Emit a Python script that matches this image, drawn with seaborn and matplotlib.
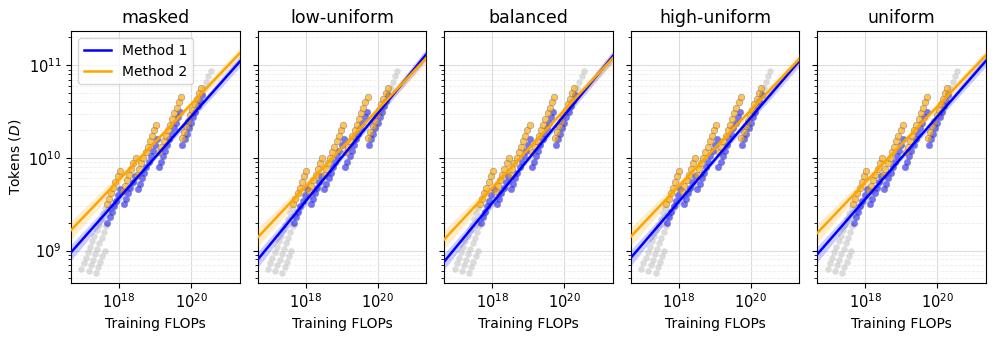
import numpy as np
import pandas as pd
import matplotlib
matplotlib.use("Agg")
import matplotlib.pyplot as plt
import seaborn as sns
from matplotlib.ticker import LogLocator, NullLocator, NullFormatter

# ---------------- data (log10 values) ----------------
panels = ["masked", "low-uniform", "balanced", "high-uniform", "uniform"]

# Method 1 (blue) training runs: log10 FLOPs / log10 tokens, one list per streak
m1_logC = [
    [17.68, 17.74, 17.80, 17.86, 17.92, 17.98, 18.04],
    [18.14, 18.20, 18.26, 18.32, 18.38, 18.44],
    [18.52, 18.58, 18.64, 18.70, 18.76, 18.82, 18.88, 18.94, 19.00, 19.06],
    [19.10, 19.16, 19.22, 19.28, 19.34, 19.40, 19.46, 19.52, 19.58, 19.64, 19.70],
    [19.76, 19.82, 19.88, 19.94, 20.00, 20.06, 20.12, 20.18, 20.24, 20.30],
]
m1_logD = [
    [9.30, 9.36, 9.42, 9.48, 9.54, 9.60, 9.66],
    [9.50, 9.56, 9.62, 9.68, 9.74, 9.80],
    [9.66, 9.72, 9.78, 9.84, 9.90, 9.96, 10.02, 10.08, 10.14, 10.20],
    [9.90, 9.96, 10.02, 10.08, 10.14, 10.20, 10.26, 10.32, 10.38, 10.44, 10.50],
    [10.14, 10.20, 10.26, 10.32, 10.38, 10.44, 10.50, 10.56, 10.62, 10.68],
]

# Method 2 (orange) training runs
m2_logC = [
    [17.66, 17.72, 17.78, 17.84, 17.90, 17.96, 18.02],
    [18.10, 18.16, 18.22, 18.28, 18.34, 18.40, 18.46],
    [18.50, 18.56, 18.62, 18.68, 18.74, 18.80, 18.86, 18.92, 18.98, 19.04],
    [19.12, 19.18, 19.24, 19.30, 19.36, 19.42, 19.48, 19.54, 19.60, 19.66, 19.72],
    [19.74, 19.80, 19.86, 19.92, 19.98, 20.04, 20.10, 20.16, 20.22, 20.28],
]
m2_logD = [
    [9.50, 9.56, 9.62, 9.68, 9.74, 9.80, 9.86],
    [9.64, 9.70, 9.76, 9.82, 9.88, 9.94, 10.00],
    [9.82, 9.88, 9.94, 10.00, 10.06, 10.12, 10.18, 10.24, 10.30, 10.36],
    [10.06, 10.12, 10.18, 10.24, 10.30, 10.36, 10.42, 10.48, 10.54, 10.60, 10.66],
    [10.22, 10.28, 10.34, 10.40, 10.46, 10.52, 10.58, 10.64, 10.70, 10.76],
]

# excluded runs (grey)
ex_logC = [
    [16.96, 17.02, 17.08, 17.14, 17.20, 17.26, 17.32, 17.38, 17.44, 17.50, 17.56, 17.62],
    [17.16, 17.22, 17.28, 17.34, 17.40, 17.46, 17.52, 17.58, 17.64],
    [17.36, 17.42, 17.48, 17.54, 17.60],
    [20.30, 20.36, 20.42, 20.48, 20.54],
]
ex_logD = [
    [8.80, 8.86, 8.92, 8.98, 9.04, 9.10, 9.16, 9.22, 9.28, 9.34, 9.40, 9.46],
    [8.78, 8.84, 8.90, 8.96, 9.02, 9.08, 9.14, 9.20, 9.26],
    [8.76, 8.82, 8.88, 8.94, 9.00],
    [10.70, 10.76, 10.82, 10.88, 10.94],
]

# fitted lines: log10 tokens at left / right edge of the FLOP range
fit_logC_ends = [16.67, 21.35]
m1_fit = {"masked": [8.98, 11.04], "low-uniform": [8.90, 11.12], "balanced": [8.88, 11.10],
          "high-uniform": [8.92, 11.05], "uniform": [8.96, 11.05]}
m2_fit = {"masked": [9.22, 11.13], "low-uniform": [9.14, 11.08], "balanced": [9.12, 11.08],
          "high-uniform": [9.15, 11.07], "uniform": [9.19, 11.11]}
# confidence band half-width (decades) at left / centre / right
band_logC = [16.67, 18.9, 21.35]
m1_band = [0.085, 0.025, 0.06]
m2_band = [0.10, 0.025, 0.06]

# ---------------- build tables ----------------
def to_df(cs, ds):
    c = np.concatenate([np.array(v) for v in cs])
    d = np.concatenate([np.array(v) for v in ds])
    return pd.DataFrame({"C": 10.0 ** c, "D": 10.0 ** d})

df1 = to_df(m1_logC, m1_logD)
df2 = to_df(m2_logC, m2_logD)
dfx = to_df(ex_logC, ex_logD)

BLUE = "#0000ff"
ORANGE = "#ffa500"

fig, axes = plt.subplots(1, 5, figsize=(9.96, 3.38), dpi=100, sharey=True)
fig.subplots_adjust(left=0.0713, right=0.990, bottom=0.163, top=0.908, wspace=0.106)

for ax, name in zip(axes, panels):
    ax.set_xscale("log")
    ax.set_yscale("log")
    sns.scatterplot(data=dfx, x="C", y="D", ax=ax, color="#c4c4c4", alpha=0.6,
                    s=22, linewidth=0, zorder=2)
    sns.scatterplot(data=df1, x="C", y="D", ax=ax, color=BLUE, alpha=0.55,
                    s=22, edgecolor="#777777", linewidth=0.5, zorder=3)
    sns.scatterplot(data=df2, x="C", y="D", ax=ax, color=ORANGE, alpha=0.65,
                    s=22, edgecolor="#777777", linewidth=0.5, zorder=4)

    for fit, band, col, lab in [(m1_fit[name], m1_band, BLUE, "Method 1"),
                                (m2_fit[name], m2_band, ORANGE, "Method 2")]:
        xs = np.array(fit_logC_ends)
        ys = np.array(fit)
        slope = (ys[1] - ys[0]) / (xs[1] - xs[0])
        bx = np.array(band_logC)
        by = ys[0] + slope * (bx - xs[0])
        hb = np.array(band)
        ax.fill_between(10.0 ** bx, 10.0 ** (by - hb), 10.0 ** (by + hb),
                        color=col, alpha=0.2, linewidth=0, zorder=5)
        line_df = pd.DataFrame({"C": 10.0 ** xs, "D": 10.0 ** ys})
        sns.lineplot(data=line_df, x="C", y="D", ax=ax, color=col, linewidth=1.8,
                     label=lab if name == "masked" else None, zorder=6)

    ax.set_xlim(10 ** 16.67, 10 ** 21.35)
    ax.set_ylim(10 ** 8.65, 10 ** 11.37)
    ax.xaxis.set_major_locator(LogLocator(base=100.0))
    ax.xaxis.set_minor_locator(NullLocator())
    ax.yaxis.set_major_locator(LogLocator(base=10.0))
    ax.yaxis.set_minor_locator(LogLocator(base=10.0, subs=np.arange(2, 10)))
    ax.yaxis.set_minor_formatter(NullFormatter())
    ax.grid(True, which="major", color="#dcdcdc", linewidth=0.8, zorder=0)
    ax.grid(True, which="minor", axis="y", color="#ececec", linestyle="--",
            linewidth=0.6, zorder=0)
    ax.set_axisbelow(True)
    ax.set_title(name, fontsize=12.5)
    ax.set_xlabel("Training FLOPs", fontsize=10)
    ax.set_ylabel("")
    ax.tick_params(axis="both", labelsize=10.5)
    if name != "masked":
        ax.tick_params(axis="y", labelleft=False)
        if ax.get_legend() is not None:
            ax.get_legend().remove()

axes[0].set_ylabel("Tokens ($D$)", fontsize=10)
axes[0].legend(loc="upper left", fontsize=10, framealpha=0.8)

fig.savefig("out.png", dpi=100)
